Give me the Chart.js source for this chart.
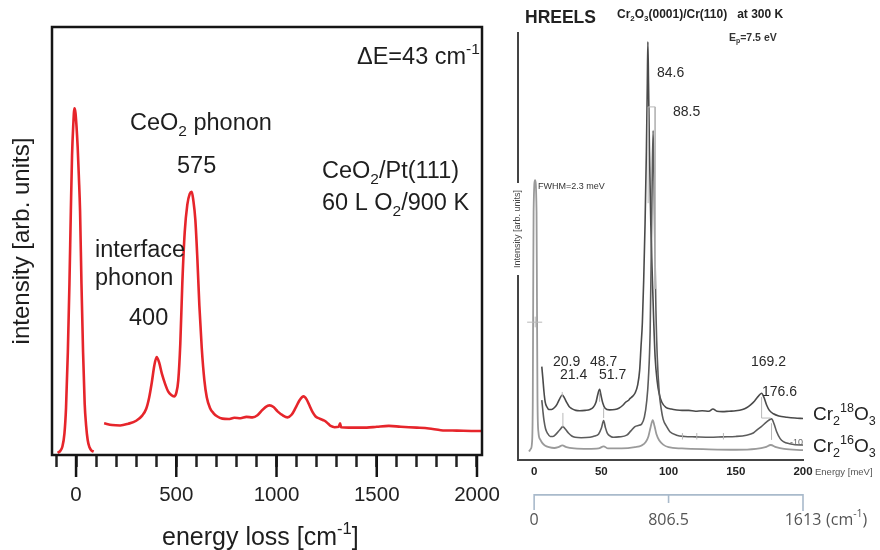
<!DOCTYPE html>
<html><head><meta charset="utf-8">
<script src="https://cdn.jsdelivr.net/npm/chart.js@4.4.1/dist/chart.umd.min.js"></script>
<style>
html,body{margin:0;padding:0;background:#fff;}
#wrap{position:relative;width:880px;height:550px;overflow:hidden;background:#fff;}
canvas{position:absolute;top:0;}
#c1{left:0;} #c2{left:500px;}
</style></head><body>
<div id="wrap"><canvas id="c1" width="520" height="550"></canvas><canvas id="c2" width="380" height="550"></canvas></div>
<script>
// ---------- LEFT PANEL DATA (CeO2/Pt(111), energy loss in cm^-1) ----------
const zeroLossEnergy = [-92,-80,-68,-58,-50,-41,-33,-26,-20,-14,-8,-3,2,8,14,20,27,35,43,50,58,67,78,88];
const zeroLossIntensity = [0.5,0.9,2,5,11,24,40,57,70,77,81,80,77,72,65,57,40,24,12,7,3.5,1.8,1,0.8];
const spectrumEnergy = [140,180,220,260,300,330,350,365,378,390,402,415,428,445,460,475,489,500,510,520,530,542,555,567,577,585,595,605,615,627,640,652,668,685,705,730,760,790,820,850,880,905,925,945,965,985,1005,1030,1055,1075,1095,1115,1135,1150,1165,1180,1195,1215,1240,1258,1270,1290,1310,1317,1322,1360,1400,1450,1500,1560,1620,1700,1760,1820,1900,2000,2020];
const spectrumIntensity = [7.4,7.0,6.9,7.3,8.0,9.2,10.8,13.5,17,20.8,22.9,21.5,19,16.5,14.8,14,13.7,14.5,17.5,26,40,52,58.5,61,61.5,59.5,55,46,35,25,17.5,13.5,11,9.8,9.0,8.5,8.4,8.7,8.6,8.9,8.8,9.3,10.3,11.2,11.6,11.2,10.2,9.3,8.8,9.4,11.0,12.8,13.7,13.0,11.5,10.0,9.0,8.5,8.0,7.3,6.8,6.5,6.6,7.4,6.5,6.4,6.4,6.4,6.6,6.8,6.6,6.4,6.2,5.8,5.7,5.6,5.6];
const leftMajorTicks = [0,500,1000,1500,2000];

// ---------- RIGHT PANEL DATA (HREELS Cr2O3, energy in meV) ----------
const e18 = [5.7,6.5,7.3,8.2,9.5,11,13,15,17,19,20.9,22.5,24.3,26,28,31,34,38,41.5,44,46,47.5,48.7,49.8,51,52.8,56,60,63,66.4,68,70,71.4,73,75,77,78.5,79.5,80.5,81.5,82.5,83.5,84.2,84.6,85.1,85.8,86.8,88,89,90,91.5,93,95,98,102,106,110,115,120,125,130,133,136,140,145,150,155,158,161,164,166.5,169.2,171,173,175,178,182,188,194,200];
const i18 = [21.8,19,16,13.6,12.4,11.8,11.8,12.2,13.0,14.3,15.2,14.5,13.4,12.5,12.0,11.6,11.5,11.6,11.8,12.3,13.5,15.5,16.5,15,13.4,12.1,11.7,11.8,12.1,12.9,13.5,13.9,14.4,14.8,15.6,17.5,21,26.5,32,42,55,72,88,97.7,88,72,55,42,32,24,18.5,15.5,13.5,12.3,11.9,11.7,11.6,11.6,11.4,11.5,11.4,11.9,11.4,11.3,11.4,11.5,11.8,12.2,12.9,13.8,14.8,15.6,14.6,12.8,11.6,10.8,10.3,10,9.8,9.7];
const e16 = [5.7,6.5,7.3,8.5,10,12,14,16.5,19,21.4,23,25.5,28,30.5,35,41.5,45,48,50,51.7,53,54.5,57,59,63,68.9,72,75,78,80,82,83.8,85,86.3,87.2,87.8,88.5,89.2,89.8,90.6,91.6,93,94.5,96,98.6,101,106,112,120,131,140,150,158,163,165.6,169,173,176.6,178.5,180.4,183,185.4,190,198,200];
const i16 = [14,11.5,9.3,7.3,6.2,5.5,5.5,6.1,7.0,7.8,7.3,6.3,5.6,5.3,5.2,5.3,5.6,6.1,7.4,9.2,7.6,6.2,5.5,5.3,5.4,5.8,6.8,7.8,8.1,8.4,10,13.9,19,30,50,65,77,65,50,35,24,16,12,9.5,7.8,6.6,5.8,5.5,5.4,5.3,5.4,5.5,5.8,6.3,7,7.8,8.9,9.6,8.4,6.6,5.0,4.3,3.8,3.5,3.5];
const eRaw = [-3.8,-2.5,-1.6,-1.0,-0.7,-0.4,0.7,1.8,2.1,2.5,3.2,4.5,6,8,11,15,18,21,24,30,40,48,51.7,55,65,75,80,83,85,86.5,88.2,89.5,91,93,96,100,110,130,150,165,172,176,180,186,200];
const iRaw = [2.0,2.6,4,14,38,58,65.4,58,38,14,6.5,4.8,4.0,3.4,3.0,2.8,3.0,3.4,3.0,2.7,2.6,2.7,3.2,2.7,2.7,3.0,3.4,4.2,5.5,7.5,9.3,8,6,4.6,3.6,3.0,2.7,2.5,2.4,2.6,3.0,3.5,3.0,2.6,2.3];
// thin peak-position markers: start (E,I) -> end (E,I)
const markStartE = [20.9,21.4,48.7,51.7,169.2,169.2,176.6,110.3,121,140.8,84.8,84.8,90,-5.2,0.8];
const markStartI = [14.7,7.7,13.6,9.8,9.8,9.8,4.7,4.8,4.8,4.8,60,82.5,82.5,32.2,31];
const markEndE   = [20.9,21.4,48.7,51.7,169.2,176,176.6,110.3,121,140.8,84.8,90,90,6,0.8];
const markEndI   = [15.9,11,16,12.1,14.7,9.8,8.6,6.3,6.3,6.3,82.5,82.5,40,32.2,33.5];
const meVTickStep = 50;
const cm1Ticks = [0,806.5,1613];
const cm1TickLabels = ['0','806.5','1613'];
const meVToCm = 8.065;

const ARIAL = '"Liberation Sans", Arial, sans-serif';
const pts = (xs, ys) => xs.map((x, i) => ({x: x, y: ys[i]}));

function drawRich(ctx, x, y, parts, size, family, color, weight) {
  ctx.save();
  ctx.fillStyle = color; ctx.textBaseline = 'middle'; ctx.textAlign = 'left';
  let cx = x;
  for (const p of parts) {
    const t = typeof p === 'string' ? p : p[0];
    const k = typeof p === 'string' ? '' : p[1];
    const s = k ? size * 0.66 : size;
    const dy = k === 'sub' ? size * 0.32 : (k === 'sup' ? -size * 0.36 : 0);
    ctx.font = (weight || 'normal') + ' ' + s + 'px ' + family;
    ctx.fillText(t, cx, y + dy);
    cx += ctx.measureText(t).width;
  }
  ctx.restore();
}

// ---------- LEFT CHART ----------
const leftPlugin = {
  id: 'leftDeco',
  afterDraw(chart) {
    const ctx = chart.ctx, ca = chart.chartArea, xs = chart.scales.x;
    ctx.save();
    ctx.strokeStyle = '#151515'; ctx.lineWidth = 2.5;
    ctx.strokeRect(ca.left, ca.top, ca.right - ca.left, ca.bottom - ca.top);
    ctx.beginPath();
    for (const v of leftMajorTicks) {
      const px = xs.getPixelForValue(v);
      ctx.moveTo(px, ca.bottom); ctx.lineTo(px, ca.bottom + 22);
    }
    ctx.stroke();
    ctx.restore();
    const c = '#1e1e1e', f = ARIAL, s = 23.5;
    drawRich(ctx, 357, 58, ['\u0394E=43 cm', ['-1', 'sup']], s, f, c);
    drawRich(ctx, 130, 124, ['CeO', ['2', 'sub'], ' phonon'], s, f, c);
    drawRich(ctx, 177, 167, ['575'], s, f, c);
    drawRich(ctx, 322, 172, ['CeO', ['2', 'sub'], '/Pt(111)'], s, f, c);
    drawRich(ctx, 322, 204, ['60 L O', ['2', 'sub'], '/900 K'], s, f, c);
    drawRich(ctx, 95, 251, ['interface'], s, f, c);
    drawRich(ctx, 95, 279, ['phonon'], s, f, c);
    drawRich(ctx, 129, 319, ['400'], s, f, c);
    drawRich(ctx, 162, 538, ['energy loss [cm', ['-1', 'sup'], ']'], 25, f, c);
  }
};

new Chart(document.getElementById('c1'), {
  type: 'line',
  data: {
    datasets: [
      {data: pts(zeroLossEnergy, zeroLossIntensity), borderColor: '#e6252b', borderWidth: 2.6, pointRadius: 0, cubicInterpolationMode: 'monotone', fill: false},
      {data: pts(spectrumEnergy, spectrumIntensity), borderColor: '#e6252b', borderWidth: 2.6, pointRadius: 0, cubicInterpolationMode: 'monotone', fill: false}
    ]
  },
  options: {
    responsive: false, animation: false, events: [], devicePixelRatio: 1,
    layout: {padding: {left: 0, top: 27, right: 38, bottom: 27}},
    plugins: {legend: {display: false}, tooltip: {enabled: false}},
    scales: {
      x: {
        type: 'linear', min: -120, max: 2025,
        ticks: {stepSize: 100, includeBounds: false, autoSkip: false, maxRotation: 0, padding: 15.7, color: '#222',
                font: {family: ARIAL, size: 20.5},
                callback: (v) => leftMajorTicks.includes(v) ? String(v) : ''},
        grid: {drawOnChartArea: false, drawTicks: true, tickLength: 12, tickWidth: 2.5, tickColor: '#222'},
        border: {display: false}
      },
      y: {
        min: 0, max: 100,
        ticks: {display: false}, grid: {display: false, drawTicks: false}, border: {display: false},
        title: {display: true, text: 'intensity [arb. units]', color: '#1e1e1e', font: {family: ARIAL, size: 24}, padding: {top: 7.6, bottom: 15.6}}
      }
    }
  },
  plugins: [leftPlugin]
});

// ---------- RIGHT CHART ----------
const markerData = [];
for (let i = 0; i < markStartE.length; i++) {
  markerData.push({x: markStartE[i], y: markStartI[i]}, {x: markEndE[i], y: markEndI[i]}, {x: markEndE[i], y: null});
}

const rightPlugin = {
  id: 'rightDeco',
  afterDraw(chart) {
    const ctx = chart.ctx, ca = chart.chartArea, x2 = chart.scales.x2;
    ctx.save();
    ctx.strokeStyle = '#444'; ctx.lineWidth = 2;
    ctx.beginPath();
    ctx.moveTo(ca.left, ca.top); ctx.lineTo(ca.left, 183);
    ctx.moveTo(ca.left, 275); ctx.lineTo(ca.left, ca.bottom + 1);
    ctx.stroke();
    ctx.translate(ca.left, 229); ctx.rotate(-Math.PI / 2);
    ctx.fillStyle = '#444'; ctx.font = '9px ' + ARIAL; ctx.textAlign = 'center'; ctx.textBaseline = 'middle';
    ctx.fillText('Intensity [arb. units]', 0, 0);
    ctx.restore();
    ctx.save();
    const yb = x2.top + 16;
    const p0 = x2.getPixelForValue(cm1Ticks[0]), p1 = x2.getPixelForValue(cm1Ticks[1]), p2 = x2.getPixelForValue(cm1Ticks[2]);
    ctx.strokeStyle = '#a9bacb'; ctx.lineWidth = 1.6;
    ctx.beginPath();
    ctx.moveTo(p0, yb + 15); ctx.lineTo(p0, yb); ctx.lineTo(p2, yb); ctx.lineTo(p2, yb + 16);
    ctx.moveTo(p1, yb); ctx.lineTo(p1, yb + 8);
    ctx.stroke();
    ctx.restore();
    const d = '#2a2a2a';
    drawRich(ctx, 25, 18, ['HREELS'], 17.5, ARIAL, '#222', 'bold');
    drawRich(ctx, 117, 15, ['Cr', ['2', 'sub'], 'O', ['3', 'sub'], '(0001)/Cr(110)   at 300 K'], 12, ARIAL, '#222', 'bold');
    drawRich(ctx, 229, 38, ['E', ['p', 'sub'], '=7.5 eV'], 10.5, ARIAL, '#333', 'bold');
    drawRich(ctx, 157, 73, ['84.6'], 14, ARIAL, d);
    drawRich(ctx, 173, 112, ['88.5'], 14, ARIAL, d);
    drawRich(ctx, 38, 187, ['FWHM=2.3 meV'], 9, ARIAL, '#333');
    drawRich(ctx, 53, 362, ['20.9'], 14, ARIAL, d);
    drawRich(ctx, 60, 375, ['21.4'], 14, ARIAL, d);
    drawRich(ctx, 90, 362, ['48.7'], 14, ARIAL, d);
    drawRich(ctx, 99, 375, ['51.7'], 14, ARIAL, d);
    drawRich(ctx, 251, 362, ['169.2'], 14, ARIAL, d);
    drawRich(ctx, 262, 392, ['176.6'], 14, ARIAL, d);
    drawRich(ctx, 313, 415, ['Cr', ['2', 'sub'], ['18', 'sup'], 'O', ['3', 'sub']], 19, ARIAL, '#222');
    drawRich(ctx, 313, 447, ['Cr', ['2', 'sub'], ['16', 'sup'], 'O', ['3', 'sub']], 19, ARIAL, '#222');
    drawRich(ctx, 290, 443, ['-10'], 9, ARIAL, '#666');
    drawRich(ctx, 315, 472, ['Energy [meV]'], 9.5, ARIAL, '#555');
    drawRich(ctx, 326, 520, ['(cm', ['-1', 'sup'], ')'], 16, '"Open Sans", sans-serif', '#555');
  }
};

new Chart(document.getElementById('c2'), {
  type: 'line',
  data: {
    datasets: [
      {data: markerData, borderColor: '#b8b8b8', borderWidth: 1, pointRadius: 0, spanGaps: false, fill: false},
      {data: pts(eRaw, iRaw), borderColor: '#9a9a9a', borderWidth: 1.8, pointRadius: 0, cubicInterpolationMode: 'monotone', fill: false},
      {data: pts(e16, i16), borderColor: '#5c5c5c', borderWidth: 1.6, pointRadius: 0, cubicInterpolationMode: 'monotone', fill: false},
      {data: pts(e18, i18), borderColor: '#4a4a4a', borderWidth: 1.6, pointRadius: 0, cubicInterpolationMode: 'monotone', fill: false}
    ]
  },
  options: {
    responsive: false, animation: false, events: [], devicePixelRatio: 1,
    layout: {padding: {left: 18, top: 32, right: 77, bottom: 18.4}},
    plugins: {legend: {display: false}, tooltip: {enabled: false}},
    scales: {
      x: {
        type: 'linear', min: -12, max: 200, position: 'bottom', weight: 0,
        ticks: {stepSize: meVTickStep, includeBounds: false, autoSkip: false, maxRotation: 0, padding: 0, color: '#222',
                font: {family: ARIAL, size: 11.5, weight: 'bold'}, callback: (v) => String(v)},
        grid: {display: false, drawTicks: true, tickLength: 5.1},
        border: {display: true, color: '#444', width: 2}
      },
      x2: {
        type: 'linear', min: -12 * meVToCm, max: 200 * meVToCm, position: 'bottom', weight: 1,
        afterBuildTicks: (s) => { s.ticks = cm1Ticks.map(v => ({value: v})); },
        ticks: {autoSkip: false, maxRotation: 0, padding: 2, color: '#555',
                font: {family: '"Open Sans", sans-serif', size: 16},
                callback: (v, i) => cm1TickLabels[i]},
        grid: {display: false, drawTicks: true, tickLength: 29.5},
        border: {display: false}
      },
      y: {min: 0, max: 100, display: false}
    }
  },
  plugins: [rightPlugin]
});
</script>
</body></html>
